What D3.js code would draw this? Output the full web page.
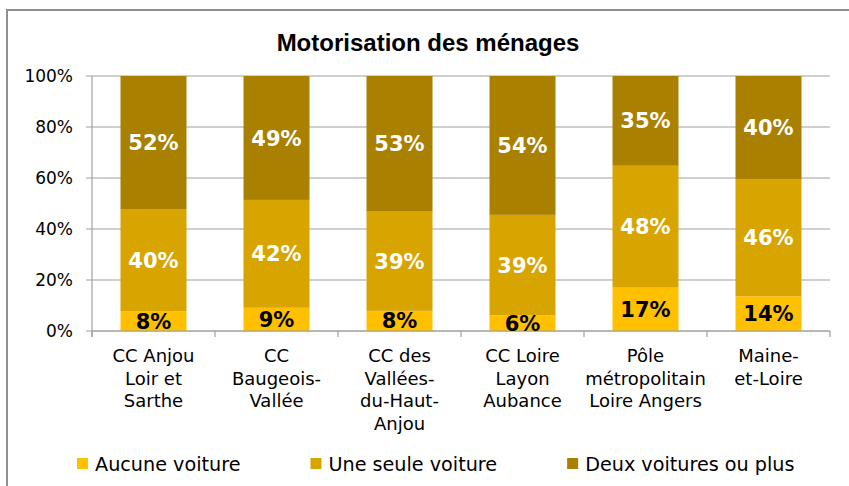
<!DOCTYPE html>
<html>
<head>
<meta charset="utf-8">
<script src="https://cdn.jsdelivr.net/npm/d3@7"></script>
<style>
  body { margin: 0; background: #fff; }
  svg { display: block; }
</style>
</head>
<body>
<div id="chart"></div>
<script>
// data
var categories = [
    'CC Anjou Loir et Sarthe',
    'CC Baugeois-Vallée',
    'CC des Vallées-du-Haut-Anjou',
    'CC Loire Layon Aubance',
    'Pôle métropolitain Loire Angers',
    'Maine-et-Loire'
];
var categoryLines = [
    ['CC Anjou', 'Loir et', 'Sarthe'],
    ['CC', 'Baugeois-', 'Vallée'],
    ['CC des', 'Vallées-', 'du-Haut-', 'Anjou'],
    ['CC Loire', 'Layon', 'Aubance'],
    ['Pôle', 'métropolitain', 'Loire Angers'],
    ['Maine-', 'et-Loire']
];
var seriesNames = ['Aucune voiture', 'Une seule voiture', 'Deux voitures ou plus'];
var aucune   = [7.8, 9.1, 7.9, 6.2, 17.0, 13.6];
var uneSeule = [39.8, 42.3, 38.9, 39.3, 47.8, 46.0];
var deuxPlus = [52.4, 48.6, 53.2, 54.4, 35.2, 40.4];
var yTicks = [0, 0.2, 0.4, 0.6, 0.8, 1];

var colors = ['#FFC000', '#D8A400', '#A98000'];
var labelColors = ['#000', '#fff', '#fff'];

var W = 849, H = 486;
var margin = {top: 76, left: 92, right: 19, bottom: 155};
var plotBottom = H - margin.bottom;

var svg = d3.select('#chart').append('svg')
    .attr('width', W)
    .attr('height', H);

// frame
svg.append('rect')
    .attr('x', 7).attr('y', 10)
    .attr('width', W + 10).attr('height', H + 10)
    .attr('fill', '#fff')
    .attr('stroke', '#8f8f8f')
    .attr('stroke-width', 2);

svg.append('text')
    .attr('x', 428).attr('y', 51)
    .attr('text-anchor', 'middle')
    .style('font-family', '"Liberation Sans", Arial, sans-serif')
    .style('font-weight', 'bold')
    .style('font-size', '24px')
    .text('Motorisation des ménages');

var rows = categories.map(function(c, i) {
    return {name: c, s0: aucune[i], s1: uneSeule[i], s2: deuxPlus[i]};
});
var keys = ['s0', 's1', 's2'];

var stack = d3.stack().keys(keys).offset(d3.stackOffsetExpand);
var layers = stack(rows);

var p = 0.4634;
var x = d3.scaleBand()
    .domain(categories)
    .range([margin.left, W - margin.right])
    .paddingInner(p)
    .paddingOuter(p / 2);

var y = d3.scaleLinear()
    .domain([0, 1])
    .range([plotBottom, margin.top]);

// gridlines
svg.append('g').selectAll('line')
    .data(yTicks)
    .enter().append('line')
    .attr('x1', margin.left - 6)
    .attr('x2', W - margin.right)
    .attr('y1', function(d) { return y(d); })
    .attr('y2', function(d) { return y(d); })
    .attr('stroke', '#a0a0a0')
    .attr('stroke-width', 1.2);

// y axis labels
svg.append('g').selectAll('text')
    .data(yTicks)
    .enter().append('text')
    .attr('x', 73)
    .attr('y', function(d) { return y(d); })
    .attr('dy', '0.36em')
    .attr('text-anchor', 'end')
    .style('font-family', '"DejaVu Sans", Verdana, sans-serif')
    .style('font-size', '17px')
    .attr('fill', '#000')
    .text(d3.format('.0%'));

// y axis line
svg.append('line')
    .attr('x1', margin.left).attr('x2', margin.left)
    .attr('y1', margin.top).attr('y2', plotBottom + 6)
    .attr('stroke', '#a0a0a0').attr('stroke-width', 1.2);

// category ticks
svg.append('g').selectAll('line')
    .data(d3.range(categories.length + 1))
    .enter().append('line')
    .attr('x1', function(i) { return margin.left + i * x.step(); })
    .attr('x2', function(i) { return margin.left + i * x.step(); })
    .attr('y1', plotBottom)
    .attr('y2', plotBottom + 6)
    .attr('stroke', '#a0a0a0').attr('stroke-width', 1.2);

// bars
var groups = svg.append('g').selectAll('g')
    .data(layers)
    .enter().append('g')
    .attr('fill', function(d, i) { return colors[i]; });

groups.selectAll('rect')
    .data(function(d) { return d; })
    .enter().append('rect')
    .attr('x', function(d) { return x(d.data.name); })
    .attr('width', x.bandwidth())
    .attr('y', function(d) { return y(d[1]); })
    .attr('height', function(d) { return y(d[0]) - y(d[1]); });

// x axis line on top of bars
svg.append('line')
    .attr('x1', margin.left).attr('x2', W - margin.right)
    .attr('y1', plotBottom).attr('y2', plotBottom)
    .attr('stroke', '#a0a0a0').attr('stroke-width', 1.2);

// value labels
layers.forEach(function(layer, li) {
    svg.append('g').selectAll('text')
        .data(layer)
        .enter().append('text')
        .attr('x', function(d) { return x(d.data.name) + x.bandwidth() / 2; })
        .attr('y', function(d) { return (y(d[0]) + y(d[1])) / 2; })
        .attr('dy', '0.36em')
        .attr('text-anchor', 'middle')
        .style('font-family', '"DejaVu Sans", Verdana, sans-serif')
        .style('font-weight', 'bold')
        .style('font-size', '21px')
        .attr('fill', labelColors[li])
        .text(function(d) { return Math.round(d.data[layer.key]) + '%'; });
});

// category labels
categories.forEach(function(c, i) {
    var t = svg.append('text')
        .attr('text-anchor', 'middle')
        .style('font-family', '"DejaVu Sans", Verdana, sans-serif')
        .style('font-size', '18px')
        .attr('fill', '#000');
    categoryLines[i].forEach(function(line, j) {
        t.append('tspan')
            .attr('x', x(c) + x.bandwidth() / 2)
            .attr('y', 362 + j * 22.5)
            .text(line);
    });
});

// legend
var lx = 77;
seriesNames.forEach(function(name, i) {
    svg.append('rect')
        .attr('x', lx).attr('y', 458)
        .attr('width', 11).attr('height', 11)
        .attr('fill', colors[i]);
    var t = svg.append('text')
        .attr('x', lx + 18).attr('y', 470.5)
        .style('font-family', '"DejaVu Sans", Verdana, sans-serif')
        .style('font-size', '19.2px')
        .attr('fill', '#000')
        .text(name);
    lx += 18 + t.node().getComputedTextLength() + 70;
});
</script>
</body>
</html>
